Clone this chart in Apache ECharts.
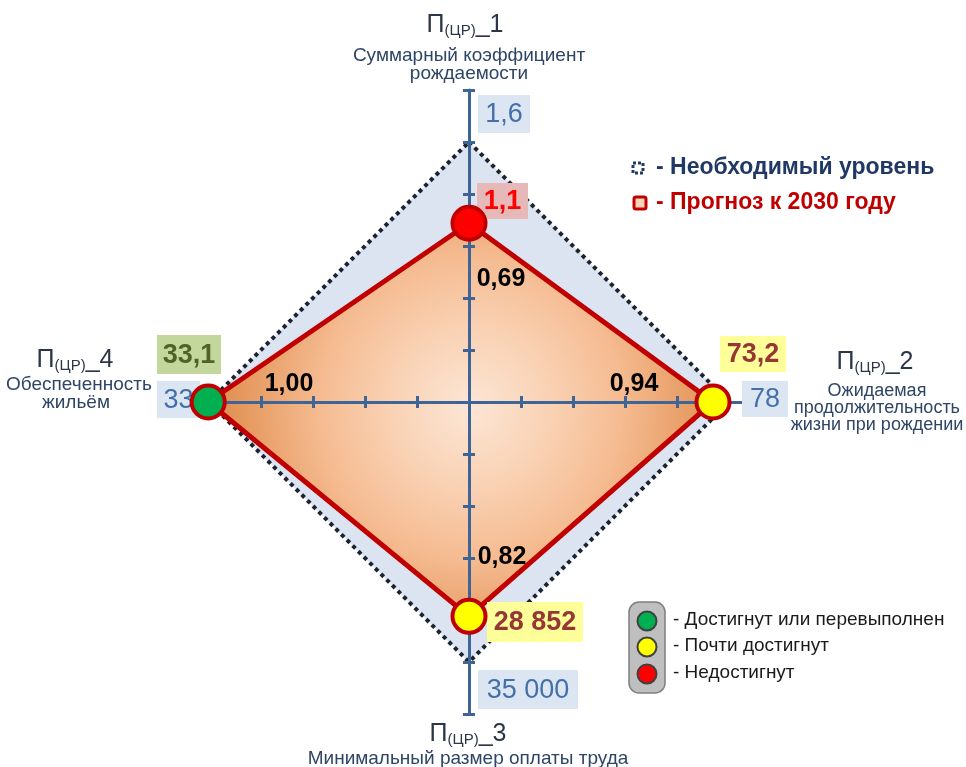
<!DOCTYPE html>
<html>
<head>
<meta charset="utf-8">
<script src="https://cdn.jsdelivr.net/npm/echarts@6/dist/echarts.min.js"></script>
<style>
html, body { margin: 0; padding: 0; background: #fff; }
#main { width: 966px; height: 767px; }
</style>
</head>
<body>
<div id="main"></div>
<script>
// показатели П(ЦР)_1..4 : сверху, справа, снизу, слева
var codes = ['1', '2', '3', '4'];
var names = [
    ['Суммарный коэффициент', 'рождаемости'],
    ['Ожидаемая', 'продолжительность', 'жизни при рождении'],
    ['Минимальный размер оплаты труда'],
    ['Обеспеченность', 'жильём']
];
var needed = [1.6, 78, 35000, 33];        // необходимый уровень
var forecast = [1.1, 73.2, 28852, 33.1];  // прогноз к 2030 году
var xTicks = [-0.8, -0.6, -0.4, -0.2, 0.2, 0.4, 0.6, 0.8];
var seriesNames = ['- Необходимый уровень', '- Прогноз к 2030 году'];
var statusNames = ['- Достигнут или перевыполнен', '- Почти достигнут', '- Недостигнут'];

var dirs = [[0, 1], [1, 0], [0, -1], [-1, 0]];
var statusColors = ['#00b050', '#ffff00', '#ff0000'];
var boxBg = ['#c3d69b', '#ffff99', '#e6b9b8'];
var boxText = ['#4f6228', '#953735', '#ff0000'];
var axisColor = '#3f6597';
var ff = '"Liberation Sans", Arial, sans-serif';

function fmt(v) {
    return String(v).replace('.', ',').replace(/\B(?=(\d{3})+(?!\d))/g, ' ');
}

var ratio = forecast.map(function (v, i) { return v / needed[i]; });
var levels = ratio.map(function (r) { return r >= 1 ? 0 : (r >= 0.8 ? 1 : 2); });
var neededPts = dirs.map(function (d, i) { return [d[0] * needed[i] / needed[i], d[1] * needed[i] / needed[i]]; });
var forecastPts = dirs.map(function (d, i) { return [d[0] * ratio[i], d[1] * ratio[i]]; });

function polygonItem(pts, style) {
    return function (params, api) {
        if (params.dataIndex !== 0) return null;
        return {
            type: 'polygon',
            shape: { points: pts.map(function (p) { return api.coord(p); }) },
            style: style
        };
    };
}

var graphic = [];
function box(x, y, w, h, bg, text, color, bold) {
    graphic.push({ type: 'rect', z: 4, shape: { x: x, y: y, width: w, height: h }, style: { fill: bg } });
    graphic.push({ type: 'text', z: 4, x: x + w / 2, y: y + h / 2 + 1,
        style: { text: text, fill: color, fontSize: 27, fontWeight: bold ? 'bold' : 'normal', fontFamily: ff, align: 'center', verticalAlign: 'middle' } });
}
function txt(x, y, text, size, color, weight, align) {
    graphic.push({ type: 'text', z: 6, x: x, y: y,
        style: { text: text, fill: color, fontSize: size, fontWeight: weight || 'normal', fontFamily: ff, align: align || 'center', verticalAlign: 'middle' } });
}
function code(x, y, c) {
    graphic.push({ type: 'text', z: 6, x: x, y: y,
        style: {
            text: '{a|П}{s|(ЦР)}{a|_' + c + '}', align: 'center', verticalAlign: 'middle',
            rich: {
                a: { fontSize: 25, fontFamily: ff, fill: '#2b3648', lineHeight: 30, verticalAlign: 'bottom' },
                s: { fontSize: 15, fontFamily: ff, fill: '#2b3648', lineHeight: 20, verticalAlign: 'bottom' }
            }
        } });
}

// подписи осей
var nameColor = '#2f4565';
code(465, 23, codes[0]);
txt(469, 56, names[0][0], 19, nameColor);
txt(469, 74, names[0][1], 19, nameColor);
code(875, 360, codes[1]);
txt(877, 391, names[1][0], 18, nameColor);
txt(877, 408, names[1][1], 18, nameColor);
txt(877, 425, names[1][2], 18, nameColor);
code(468, 732, codes[2]);
txt(468, 759, names[2][0], 19, nameColor);
code(75, 358, codes[3]);
txt(79, 385, names[3][0], 19, nameColor);
txt(76, 403, names[3][1], 19, nameColor);

// значения: необходимый уровень
box(478, 95, 52, 38, '#dce6f2', fmt(needed[0]), '#4470aa', false);
box(742, 381, 46, 36, '#dce6f2', fmt(needed[1]), '#4470aa', false);
box(478, 670, 100, 39, '#dce6f2', fmt(needed[2]), '#4470aa', false);
box(157, 381, 43, 37, '#dce6f2', fmt(needed[3]), '#4470aa', false);
// значения: прогноз
box(477, 183, 51, 36, boxBg[levels[0]], fmt(forecast[0]), boxText[levels[0]], true);
box(720, 336, 66, 36, boxBg[levels[1]], fmt(forecast[1]), boxText[levels[1]], true);
box(487, 602, 96, 40, boxBg[levels[2]], fmt(forecast[2]), boxText[levels[2]], true);
box(157, 335, 64, 39, boxBg[levels[3]], fmt(forecast[3]), boxText[levels[3]], true);
// отношения прогноз / необходимый
var rl = ratio.map(function (r) { return r.toFixed(2).replace('.', ','); });
txt(501, 279, rl[0], 25, '#000', 'bold');
txt(634, 384, rl[1], 25, '#000', 'bold');
txt(502, 557, rl[2], 25, '#000', 'bold');
txt(289, 384, rl[3], 25, '#000', 'bold');

// легенда
graphic.push({ type: 'rect', z: 6, shape: { x: 633, y: 163, width: 10, height: 10 },
    style: { fill: '#fff', stroke: '#1f3864', lineWidth: 3, lineDash: [3, 2] } });
txt(656, 168, seriesNames[0], 23, '#1f3864', 'bold', 'left');
graphic.push({ type: 'rect', z: 6, shape: { x: 634, y: 197, width: 12, height: 12, r: 2 },
    style: { fill: '#fbd5b5', stroke: '#c00000', lineWidth: 3 } });
txt(656, 203, seriesNames[1], 23, '#c00000', 'bold', 'left');

// светофор
graphic.push({ type: 'rect', z: 6, shape: { x: 629, y: 602, width: 36, height: 91, r: 10 },
    style: { fill: '#bfbfbf', stroke: '#7f7f7f', lineWidth: 1.5 } });
[621, 647, 674].forEach(function (cy, i) {
    graphic.push({ type: 'circle', z: 6, shape: { cx: 647, cy: cy, r: 9.5 },
        style: { fill: statusColors[i], stroke: '#404040', lineWidth: 2 } });
    txt(673, cy - 1, statusNames[i], 19, '#1a1a1a', 'normal', 'left');
});

var chart = echarts.init(document.getElementById('main'));
var tickStyle = { color: axisColor, width: 3 };
chart.setOption({
    animation: false,
    backgroundColor: '#fff',
    grid: { left: 196, top: 90, width: 546, height: 624 },
    xAxis: [
        { type: 'value', min: -1.05, max: 1.05, position: 'bottom', z: 3,
          axisLine: { onZero: true, lineStyle: { color: axisColor, width: 3 } },
          axisTick: { customValues: xTicks, length: 6, lineStyle: tickStyle },
          axisLabel: { show: false }, splitLine: { show: false } },
        { type: 'value', min: -1.05, max: 1.05, position: 'top', z: 3,
          axisLine: { show: false, onZero: true, onZeroAxisIndex: 0 },
          axisTick: { customValues: xTicks, length: 6, lineStyle: tickStyle },
          axisLabel: { show: false }, splitLine: { show: false } }
    ],
    yAxis: [
        { type: 'value', min: -1.2, max: 1.2, interval: 0.2, position: 'left', z: 3,
          axisLine: { onZero: true, lineStyle: { color: axisColor, width: 3 } },
          axisTick: { length: 6, lineStyle: tickStyle },
          axisLabel: { show: false }, splitLine: { show: false } },
        { type: 'value', min: -1.2, max: 1.2, interval: 0.2, position: 'right', z: 3,
          axisLine: { show: false, onZero: true, onZeroAxisIndex: 0 },
          axisTick: { length: 6, lineStyle: tickStyle },
          axisLabel: { show: false }, splitLine: { show: false } }
    ],
    series: [
        { name: seriesNames[0], type: 'custom', coordinateSystem: 'cartesian2d', z: 1, silent: true,
          data: neededPts,
          renderItem: polygonItem(neededPts, { fill: '#dbe4f0', stroke: '#1c2333', lineWidth: 4, lineDash: [4, 4] }) },
        { name: seriesNames[1], type: 'custom', coordinateSystem: 'cartesian2d', z: 2, silent: true,
          data: forecastPts,
          renderItem: polygonItem(forecastPts, {
              fill: new echarts.graphic.RadialGradient(0.52, 0.47, 0.68, [
                  { offset: 0, color: '#fce6d6' },
                  { offset: 0.3, color: '#f9d1b3' },
                  { offset: 0.56, color: '#f5bb91' },
                  { offset: 0.85, color: '#e5985d' },
                  { offset: 1, color: '#d9844a' }
              ]),
              stroke: '#c00000', lineWidth: 5, lineJoin: 'round'
          }) },
        { type: 'scatter', z: 5, silent: true, symbolSize: 33,
          data: forecastPts.map(function (p, i) {
              return { value: p, itemStyle: { color: statusColors[levels[i]], borderColor: '#c00000', borderWidth: 4, opacity: 1 } };
          }) }
    ],
    graphic: graphic
});
</script>
</body>
</html>
